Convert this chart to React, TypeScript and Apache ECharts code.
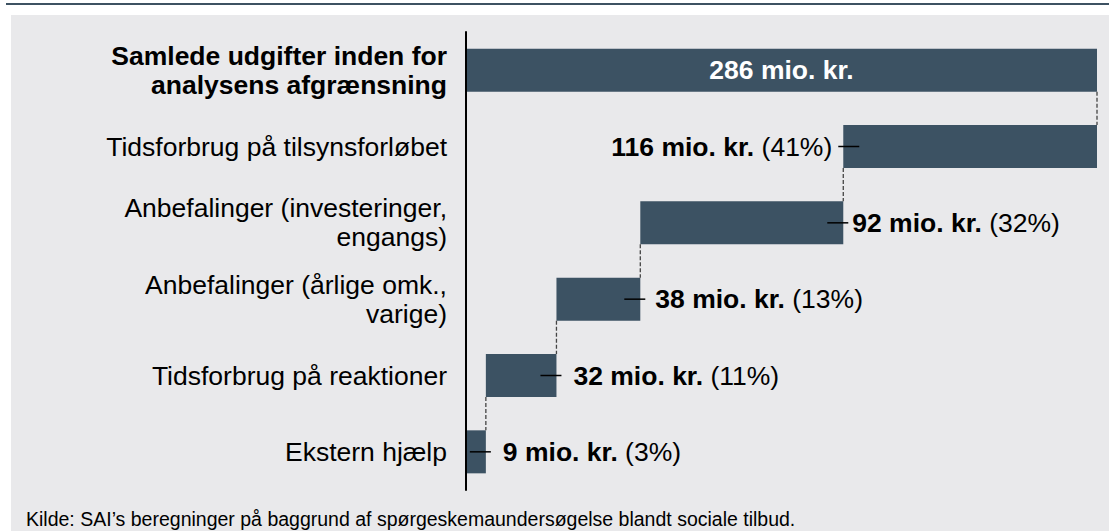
import React, { useEffect, useRef } from "react";
import * as echarts from "echarts";

const categories = [
  "Samlede udgifter inden for\nanalysens afgrænsning",
  "Tidsforbrug på tilsynsforløbet",
  "Anbefalinger (investeringer,\nengangs)",
  "Anbefalinger (årlige omk.,\nvarige)",
  "Tidsforbrug på reaktioner",
  "Ekstern hjælp",
];
const totalValue = 286;
const partValues = [116, 92, 38, 32, 9];
const partShares = [41, 32, 13, 11, 3];
const footerText =
  "Kilde: SAI’s beregninger på baggrund af spørgeskemaundersøgelse blandt sociale tilbud.";

const FONT = "'Liberation Sans', Arial, Helvetica, sans-serif";
const BAR = "#3c5263";
const BAR_H = 43;
const FS = 26.5;
// label side and gap per part (styling)
const labelSide = ["left", "right", "right", "right", "right"];
const labelGap = [11, 9, 15, 17, 17];

export default function App() {
  const ref = useRef<HTMLDivElement>(null);

  useEffect(() => {
    if (!ref.current) return;
    const chart = echarts.init(ref.current, null, { renderer: "svg" });

    const rowValues = [totalValue, ...partValues];
    const rowBases = rowValues.map((_, i) => {
      if (i === 0) return 0;
      let s = 0;
      for (let j = i; j < partValues.length; j++) s += partValues[j];
      return s;
    });
    const rowStarts = rowBases;
    const rowEnds = rowValues.map((v, i) => rowStarts[i] + v);

    const valueData = rowValues.map((v, i) => {
      if (i === 0) {
        return {
          value: v,
          label: {
            show: true,
            position: "inside",
            formatter: `${totalValue} mio. kr.`,
            color: "#ffffff",
            fontWeight: "bold",
            fontSize: FS,
            fontFamily: FONT,
          },
        };
      }
      const k = i - 1;
      return {
        value: v,
        label: {
          show: true,
          position: labelSide[k],
          distance: labelGap[k],
          formatter: `{b|${partValues[k]} mio. kr.} {r|(${partShares[k]}%)}`,
          fontSize: FS,
          fontFamily: FONT,
          color: "#000",
          rich: {
            b: { fontWeight: "bold", fontSize: FS, fontFamily: FONT, color: "#000" },
            r: { fontSize: FS, fontFamily: FONT, color: "#000" },
          },
        },
      };
    });

    const customData = rowValues.map((_, i) => [rowStarts[i], rowEnds[i], i]);

    chart.setOption({
      animation: false,
      grid: { left: 466, right: 12, top: 32, bottom: 41 },
      xAxis: {
        type: "value",
        min: 0,
        max: totalValue,
        show: false,
        splitLine: { show: false },
      },
      yAxis: {
        type: "category",
        data: categories,
        inverse: true,
        z: 5,
        axisLine: { show: true, lineStyle: { color: "#000", width: 2 } },
        axisTick: { show: false },
        axisLabel: {
          margin: 19,
          fontSize: FS,
          lineHeight: 29,
          fontFamily: FONT,
          color: "#000",
          align: "right",
          formatter: (val: string, idx: number) =>
            idx === 0
              ? val
                  .split("\n")
                  .map((l) => `{b|${l}}`)
                  .join("\n")
              : val,
          rich: {
            b: {
              fontWeight: "bold",
              fontSize: FS,
              lineHeight: 29,
              fontFamily: FONT,
              color: "#000",
              align: "right",
            },
          },
        },
      },
      series: [
        {
          type: "bar",
          stack: "w",
          barWidth: BAR_H,
          itemStyle: { color: "transparent" },
          emphasis: { disabled: true },
          data: rowBases,
          silent: true,
        },
        {
          type: "bar",
          stack: "w",
          barWidth: BAR_H,
          clip: true,
          itemStyle: { color: BAR },
          emphasis: { disabled: true },
          data: valueData,
        },
        {
          type: "custom",
          silent: true,
          z: 6,
          encode: { x: [0, 1], y: 2 },
          data: customData,
          renderItem: (params: any, api: any) => {
            const i = api.value(2);
            const start = api.value(0);
            const end = Math.min(api.value(1), totalValue);
            const children: any[] = [];
            const cy = api.coord([start, i])[1];
            const xs = api.coord([start, i])[0];
            const xe = api.coord([end, i])[0];
            if (i < rowValues.length - 1) {
              const xConn = i === 0 ? xe : xs;
              const nextCy = api.coord([0, i + 1])[1];
              children.push({
                type: "line",
                shape: { x1: xConn, y1: cy + BAR_H / 2, x2: xConn, y2: nextCy - BAR_H / 2 },
                style: { stroke: "#444", lineWidth: 1.3, lineDash: [4, 2] },
              });
            }
            if (i > 0) {
              const side = labelSide[i - 1];
              const shape =
                side === "left"
                  ? { x1: xs - 5, y1: cy, x2: xs + 16, y2: cy }
                  : { x1: xe - 16, y1: cy, x2: xe + 5, y2: cy };
              children.push({
                type: "line",
                shape,
                style: { stroke: "#000", lineWidth: 1.5 },
              });
            }
            return { type: "group", children };
          },
        },
      ],
      graphic: [
        {
          type: "text",
          left: 26,
          top: 509,
          style: {
            text: footerText,
            fontSize: 19.5,
            fontFamily: FONT,
            fill: "#000",
          },
        },
      ],
    });

    return () => chart.dispose();
  }, []);

  return (
    <div
      style={{
        position: "fixed",
        left: 0,
        top: 0,
        width: 1109,
        height: 531,
        background: "#ffffff",
        overflow: "hidden",
      }}
    >
      <div
        style={{
          position: "absolute",
          left: 6,
          top: 3,
          right: 0,
          height: 2,
          background: "#3d5262",
        }}
      />
      <div
        style={{
          position: "absolute",
          left: 11,
          top: 15,
          right: 0,
          bottom: 0,
          background: "#e9e9eb",
        }}
      />
      <div
        ref={ref}
        style={{ position: "absolute", left: 0, top: 0, width: 1109, height: 531 }}
      />
    </div>
  );
}
